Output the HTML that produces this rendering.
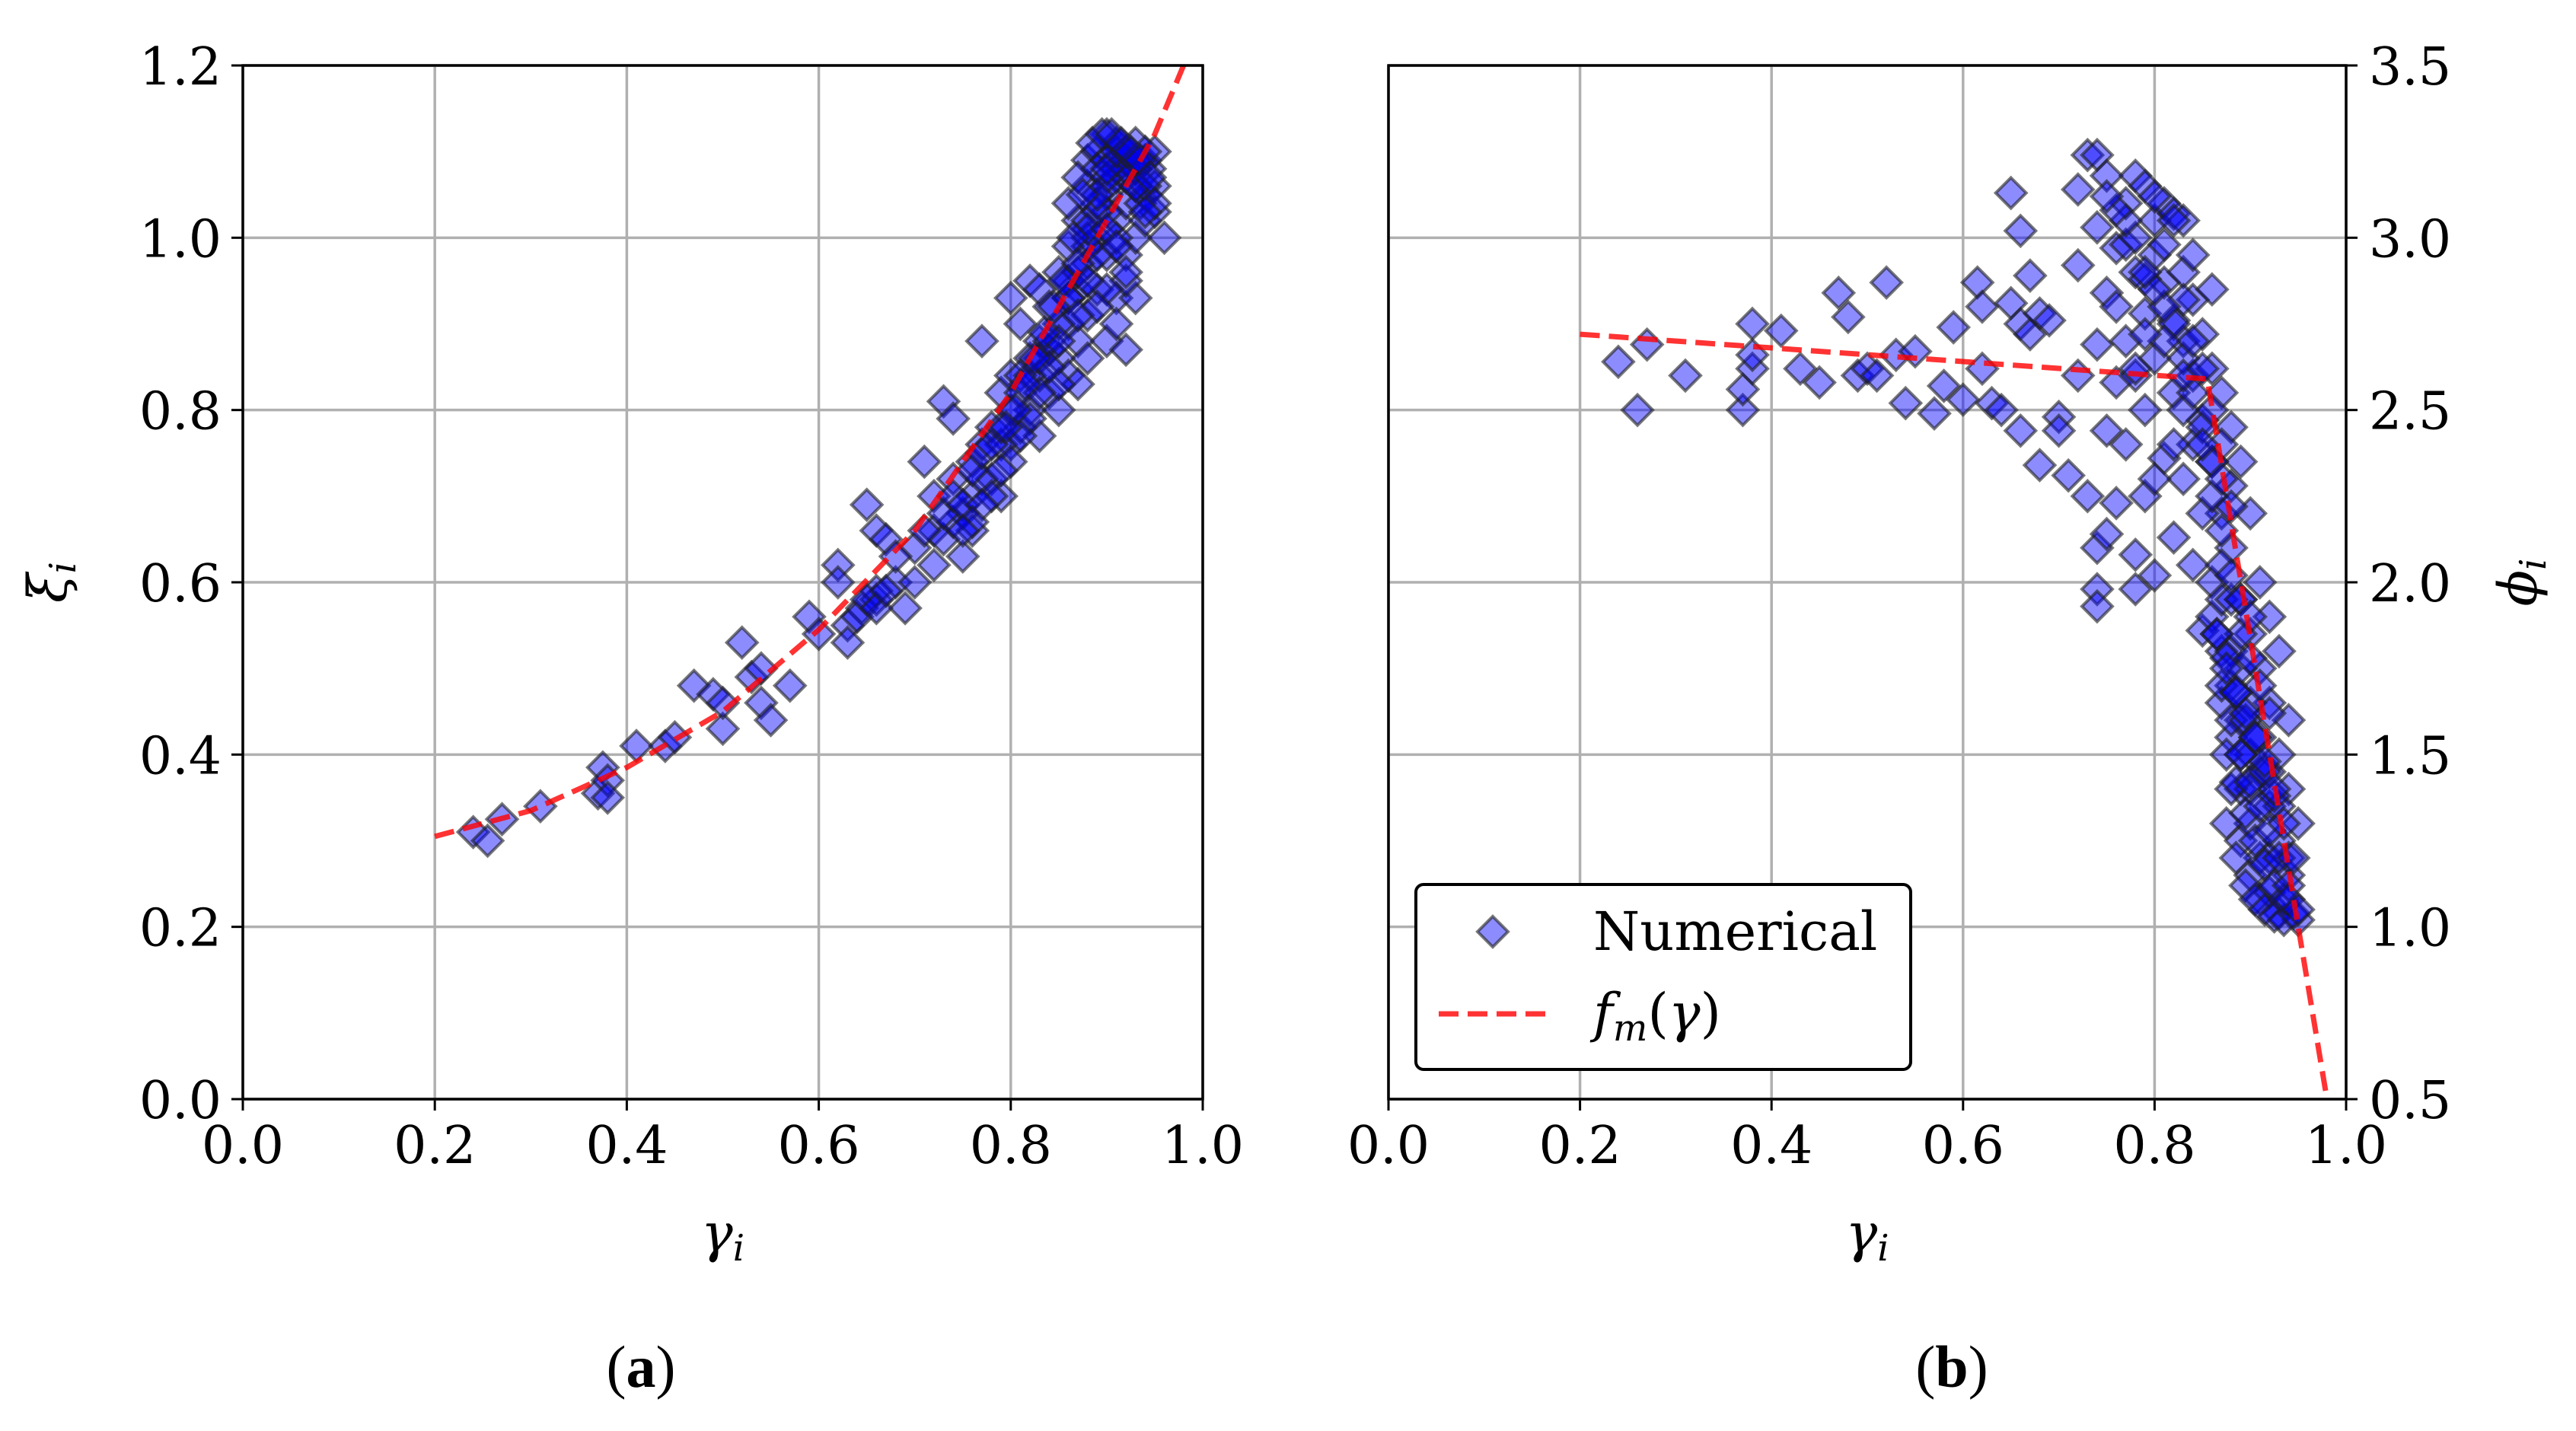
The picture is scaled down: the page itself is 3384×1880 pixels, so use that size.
<!DOCTYPE html>
<html><head><meta charset="utf-8"><style>
html,body{margin:0;padding:0;background:#fff;}
svg{display:block;}
text{font-family:"DejaVu Serif","Liberation Serif",serif;fill:#000;}
</style></head><body>
<svg id="fig" width="3384" height="1880" viewBox="0 0 3384 1880" xmlns="http://www.w3.org/2000/svg">
<g id="pa"></g>
<g id="pb"></g>
<text x="842" y="1822" font-size="78" text-anchor="middle" style="font-family:'Liberation Serif',serif">(<tspan font-weight="bold">a</tspan>)</text>
<text x="2564" y="1822" font-size="78" text-anchor="middle" style="font-family:'Liberation Serif',serif">(<tspan font-weight="bold">b</tspan>)</text>
</svg>
<script>
const xTicks=[0.0,0.2,0.4,0.6,0.8,1.0];
const xTickLabels=["0.0","0.2","0.4","0.6","0.8","1.0"];
const aYTicks=[0.0,0.2,0.4,0.6,0.8,1.0,1.2];
const aYTickLabels=["0.0","0.2","0.4","0.6","0.8","1.0","1.2"];
const bYTicks=[0.5,1.0,1.5,2.0,2.5,3.0,3.5];
const bYTickLabels=["0.5","1.0","1.5","2.0","2.5","3.0","3.5"];
const aGamma=[0.24,0.255,0.27,0.31,0.37,0.375,0.38,0.38,0.41,0.44,0.45,0.47,0.49,0.50,0.50,0.52,0.53,0.54,0.54,0.55,0.57,0.59,0.60,0.62,0.62,0.63,0.63,0.645,0.65,0.66,0.66,0.67,0.68,0.69,0.70,0.71,0.72,0.72,0.73,0.73,0.74,0.74,0.75,0.75,0.76,0.76,0.77,0.77,0.78,0.78,0.79,0.79,0.80,0.80,0.80,0.81,0.81,0.82,0.82,0.82,0.83,0.83,0.83,0.84,0.84,0.85,0.85,0.85,0.86,0.86,0.86,0.87,0.87,0.87,0.88,0.88,0.88,0.88,0.89,0.89,0.89,0.9,0.9,0.9,0.9,0.91,0.91,0.91,0.91,0.92,0.92,0.92,0.92,0.93,0.93,0.93,0.93,0.94,0.94,0.94,0.945,0.95,0.95,0.96,0.95,0.87,0.86,0.89,0.9,0.86,0.84,0.83,0.81,0.79,0.77,0.76,0.74,0.72,0.70,0.68,0.66,0.64,0.92,0.91,0.88,0.87,0.85,0.93,0.94,0.9,0.89,0.88,0.91,0.92,0.935,
0.65,0.66,0.67,0.71,0.73,0.74,0.75,0.76,0.77,0.78,0.79,0.80,0.81,0.82,0.83,0.84,0.85,0.86,0.87,0.88,0.89,0.90,0.91,0.92,0.93,0.94,0.95,0.88,0.89,0.90,0.91,0.92,0.93,0.94,0.87,0.88,0.89,0.90,0.91,0.92,0.93,0.86,0.87,0.85,0.84,0.83,0.82,0.81,0.80,0.79,0.78,0.77,0.76,0.75,0.885,0.895,0.905,0.915,0.925,0.935,0.945,0.875,0.865,0.855,0.845,0.835,0.825,0.815,0.805,0.795,0.9,0.91,0.92,0.9,0.89,0.88];
const aXi=[0.31,0.3,0.325,0.34,0.355,0.385,0.37,0.35,0.41,0.41,0.42,0.48,0.47,0.43,0.46,0.53,0.49,0.50,0.46,0.44,0.48,0.56,0.54,0.62,0.60,0.55,0.53,0.57,0.69,0.66,0.58,0.65,0.60,0.57,0.64,0.74,0.70,0.66,0.81,0.65,0.79,0.72,0.63,0.68,0.74,0.70,0.88,0.76,0.72,0.78,0.70,0.82,0.93,0.76,0.84,0.90,0.78,0.95,0.86,0.80,0.94,0.77,0.88,0.82,0.92,0.86,0.96,0.80,0.90,0.99,0.84,0.94,1.02,0.88,1.06,0.97,0.91,1.09,1.10,1.0,0.94,1.12,1.05,0.98,0.88,1.11,1.07,1.02,0.93,1.10,1.04,0.98,0.87,1.11,1.06,1.0,0.93,1.09,1.05,1.02,1.08,1.06,1.03,1.0,1.1,1.07,1.04,1.08,1.09,0.95,0.87,0.84,0.84,0.76,0.72,0.66,0.67,0.62,0.60,0.63,0.59,0.56,0.95,0.90,0.86,0.83,0.83,1.08,1.1,1.03,0.98,1.02,1.0,1.07,1.04,
0.58,0.57,0.59,0.66,0.68,0.70,0.69,0.73,0.75,0.76,0.78,0.80,0.82,0.84,0.86,0.88,0.90,0.93,0.96,0.99,1.03,1.06,1.08,1.09,1.08,1.06,1.04,1.00,1.04,1.07,1.09,1.08,1.06,1.03,0.97,1.01,1.05,1.08,1.10,1.10,1.09,0.93,0.91,0.88,0.85,0.82,0.79,0.77,0.74,0.73,0.70,0.69,0.67,0.66,1.11,1.12,1.12,1.11,1.10,1.09,1.07,1.05,1.00,0.95,0.92,0.89,0.86,0.83,0.80,0.78,1.01,0.99,0.96,0.94,0.92,0.95];
const aFitGamma=[0.2,0.3,0.4,0.5,0.6,0.7,0.8,0.9,0.95,0.98];
const aFitXi=[0.305,0.335,0.385,0.45,0.545,0.66,0.82,1.02,1.12,1.2];
const bGamma=[0.24,0.26,0.27,0.31,0.37,0.37,0.38,0.38,0.38,0.41,0.43,0.45,0.47,0.48,0.49,0.50,0.51,0.52,0.53,0.54,0.55,0.57,0.58,0.59,0.6,0.615,0.62,0.62,0.63,0.64,0.65,0.65,0.66,0.66,0.66,0.67,0.67,0.68,0.68,0.69,0.7,0.7,0.71,0.72,0.72,0.72,0.73,0.73,0.74,0.74,0.74,0.74,0.74,0.74,0.75,0.75,0.75,0.75,0.76,0.76,0.76,0.77,0.77,0.77,0.78,0.78,0.78,0.78,0.79,0.79,0.79,0.79,0.8,0.8,0.8,0.8,0.81,0.81,0.81,0.82,0.82,0.82,0.82,0.83,0.83,0.83,0.84,0.84,0.84,0.85,0.85,0.85,0.86,0.86,0.86,0.87,0.87,0.87,0.88,0.88,0.88,0.88,0.89,0.89,0.89,0.89,0.89,0.9,0.9,0.9,0.9,0.9,0.91,0.91,0.91,0.91,0.91,0.92,0.92,0.92,0.92,0.93,0.93,0.93,0.93,0.94,0.94,0.94,0.95,0.95,0.86,0.84,0.83,0.81,0.79,0.77,0.87,0.88,0.86,0.87,0.88,0.89,0.9,0.91,0.92,0.93,0.94,0.92,0.9,0.89,0.88,0.87,0.85,0.84,0.83,0.82,0.8,0.78,0.76,
0.875,0.885,0.895,0.905,0.915,0.925,0.935,0.945,0.875,0.885,0.895,0.905,0.915,0.925,0.935,0.87,0.88,0.89,0.9,0.91,0.92,0.93,0.94,0.865,0.875,0.885,0.895,0.905,0.915,0.925,0.87,0.88,0.89,0.9,0.91,0.92,0.86,0.87,0.88,0.89,0.9,0.85,0.86,0.87,0.88,0.84,0.85,0.86,0.83,0.84,0.82,0.83,0.81,0.8,0.79,0.78,0.77,0.76,0.75,0.8,0.82,0.81,0.79,0.78,0.83,0.85,0.94,0.95,0.945,0.935,0.925,0.915,0.905,0.895,0.885,0.875,0.865];
const bPhi=[2.64,2.5,2.69,2.6,2.5,2.56,2.75,2.62,2.66,2.73,2.62,2.58,2.84,2.77,2.60,2.62,2.60,2.87,2.66,2.52,2.67,2.49,2.57,2.74,2.53,2.87,2.8,2.62,2.52,2.5,2.81,3.13,3.02,2.75,2.44,2.89,2.72,2.78,2.34,2.76,2.48,2.44,2.31,3.14,2.92,2.6,3.24,2.25,3.24,3.03,2.69,2.1,1.98,1.93,3.18,2.84,2.44,2.14,2.97,2.58,2.23,3.1,2.7,2.4,3.18,2.9,2.08,1.98,3.15,2.78,2.5,2.25,3.05,2.95,2.65,2.02,3.1,2.87,2.36,3.07,2.76,2.55,2.13,2.9,2.7,2.3,2.82,2.6,2.05,2.72,2.47,1.86,2.62,2.35,2.0,2.55,2.2,1.8,2.45,2.1,1.7,1.55,2.35,1.95,1.6,1.4,1.25,2.2,1.85,1.5,1.3,1.15,2.0,1.75,1.45,1.2,1.08,1.9,1.65,1.35,1.1,1.8,1.5,1.25,1.04,1.6,1.4,1.15,1.3,1.02,2.85,2.95,3.05,2.98,2.88,2.98,2.4,2.28,1.9,1.65,1.4,1.75,1.65,1.55,1.45,1.35,1.2,1.2,1.4,1.5,1.8,1.95,2.2,2.4,2.5,2.4,2.3,2.6,2.8,
1.3,1.2,1.12,1.08,1.05,1.03,1.02,1.04,1.5,1.42,1.33,1.25,1.18,1.12,1.08,1.7,1.6,1.5,1.42,1.35,1.28,1.2,1.12,1.85,1.78,1.68,1.6,1.55,1.45,1.38,2.05,1.95,1.85,1.78,1.7,1.62,2.25,2.15,2.02,1.95,1.9,2.45,2.35,2.3,2.22,2.55,2.4,2.5,2.65,2.7,2.75,2.82,2.8,2.85,2.9,3.0,3.05,3.08,3.12,3.12,3.05,2.7,2.72,2.62,2.6,2.62,1.08,1.05,1.2,1.3,1.4,1.48,1.55,1.62,1.68,1.75,1.85];
const bFitGamma=[0.2,0.855,0.95,0.98];
const bFitPhi=[2.72,2.59,1.0,0.5];

const NS="http://www.w3.org/2000/svg";
function mk(parent,tag,attrs){const e=document.createElementNS(NS,tag);for(const k in attrs)e.setAttribute(k,attrs[k]);parent.appendChild(e);return e;}

function panel(g,x0,x1,y0,y1,ymin,ymax,yTicks,yLabels,side,xs,ys,fx,fy,ylabel,legend){
  const sx=v=>x0+(v-0)/(1-0)*(x1-x0);
  const sy=v=>y1-(v-ymin)/(ymax-ymin)*(y1-y0);
  xTicks.forEach((t,i)=>{
    const l=mk(g,'line',{x1:sx(t),x2:sx(t),y1:y0,y2:y1,stroke:'#b0b0b0','stroke-width':3.5});
    
    
    const tk=mk(g,'line',{x1:sx(t),x2:sx(t),y1:y1,y2:y1+15,stroke:'#000','stroke-width':3});
    
    
    const tx=mk(g,'text',{x:sx(t),y:y1+84,'font-size':68,'text-anchor':'middle'});
    tx.textContent=xTickLabels[i];
    
    
  });
  yTicks.forEach((t,i)=>{
    const l=mk(g,'line',{x1:x0,x2:x1,y1:sy(t),y2:sy(t),stroke:'#b0b0b0','stroke-width':3.5});
    
    
    const xe=side==='left'?x0:x1, d=side==='left'?-15:15;
    const tk=mk(g,'line',{x1:xe,x2:xe+d,y1:sy(t),y2:sy(t),stroke:'#000','stroke-width':3});
    
    
    const tx=mk(g,'text',{x:side==='left'?x0-28:x1+30,y:sy(t)+25,'font-size':68,'text-anchor':side==='left'?'end':'start'});
    tx.textContent=yLabels[i];
    
    
  });
  const clip='c'+Math.round(x0);
  const cp=mk(g,'clipPath',{id:clip});mk(cp,'rect',{x:x0,y:y0,width:x1-x0,height:y1-y0});
  const pts=mk(g,'g',{'clip-path':'url(#'+clip+')'});
  
  
  const r=20;
  xs.forEach((v,i)=>{
    const cx=sx(v),cy=sy(ys[i]);
    const p=mk(pts,'polygon',{points:`${cx},${cy-r} ${cx+r},${cy} ${cx},${cy+r} ${cx-r},${cy}`,fill:'rgba(0,0,255,0.45)',stroke:'rgba(30,30,30,0.6)','stroke-width':4});
    
    
  });
  const fit=mk(g,'polyline',{points:fx.map((v,i)=>sx(v)+','+sy(fy[i])).join(' '),fill:'none',stroke:'rgba(255,0,0,0.8)','stroke-width':7,'stroke-dasharray':'26 12'});
  
  
  const fr=mk(g,'rect',{x:x0,y:y0,width:x1-x0,height:y1-y0,fill:'none',stroke:'#000','stroke-width':3.5});
  
  
  const xl=mk(g,'text',{x:(x0+x1)/2,y:y1+200,'font-size':70,'text-anchor':'middle','font-style':'italic'});
  xl.innerHTML='γ<tspan font-size="48" dy="12">i</tspan>';
  
  
  const lx=side==='left'?x0-232:x1+250, ly=(y0+y1)/2;
  const yl=mk(g,'text',{x:lx,y:ly,'font-size':70,'text-anchor':'middle','font-style':'italic',transform:`rotate(-90 ${lx} ${ly})`});
  yl.innerHTML=ylabel+'<tspan font-size="48" dy="12">i</tspan>';
  
  
  if(legend){
    const lg=mk(g,'g',{});
    
    
    mk(lg,'rect',{x:1860,y:1162,width:650,height:243,rx:10,fill:'#fff',stroke:'#000','stroke-width':4});
    const d=mk(lg,'polygon',{points:'1961,1204 1981,1224 1961,1244 1941,1224',fill:'rgba(0,0,255,0.45)',stroke:'rgba(30,30,30,0.6)','stroke-width':4});
    
    
    const t1=mk(lg,'text',{x:2093,y:1248,'font-size':70});t1.textContent='Numerical';
    
    
    const ll=mk(lg,'line',{x1:1890,x2:2035,y1:1332,y2:1332,stroke:'rgba(255,0,0,0.8)','stroke-width':7,'stroke-dasharray':'26 12'});
    
    
    const t2=mk(lg,'text',{x:2093,y:1355,'font-size':70});
    t2.innerHTML='<tspan font-style="italic">f</tspan><tspan font-style="italic" font-size="48" dy="12">m</tspan><tspan dy="-12">(</tspan><tspan font-style="italic">γ</tspan>)';
    
    
  }
}
panel(document.getElementById('pa'),319,1580,86,1444,0,1.2,aYTicks,aYTickLabels,'left',aGamma,aXi,aFitGamma,aFitXi,'ξ',false);
panel(document.getElementById('pb'),1824,3082,86,1444,0.5,3.5,bYTicks,bYTickLabels,'right',bGamma,bPhi,bFitGamma,bFitPhi,'ϕ',true);
</script>
</body></html>
